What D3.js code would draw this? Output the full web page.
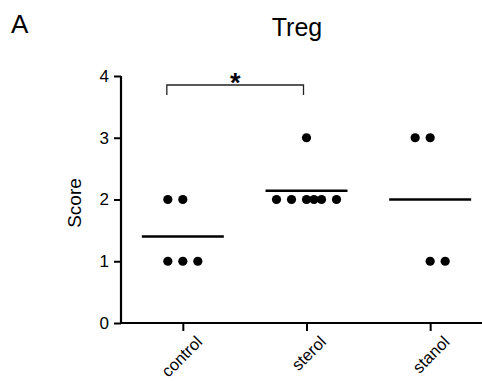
<!DOCTYPE html>
<html lang="en">
<head>
<meta charset="UTF-8">
<title>Treg</title>
<style>
  body { margin: 0; background: #fff; }
  text { font-family: "Liberation Sans", Arial, sans-serif; fill: #000; }
</style>
</head>
<body>
<svg width="482" height="381"></svg>
<script src="https://d3js.org/d3.v7.min.js"></script>
<script>
// data
var categories = ["control", "sterol", "stanol"];
var controlScores = [2, 2, 1, 1, 1];
var sterolScores = [3, 2, 2, 2, 2, 2, 2];
var stanolScores = [3, 3, 1, 1];
// horizontal spread of the dots, in dot widths
var controlJitter = [-1, 0, -1, 0, 1];
var sterolJitter = [0, -2, -1, 0, 0.5, 1, 2];
var stanolJitter = [-1, 0, 0, 1];
var yTicks = [0, 1, 2, 3, 4];
var sigPair = ["control", "sterol"];
var sigLabel = "*";

var groups = [
  { name: "control", scores: controlScores, jitter: controlJitter },
  { name: "sterol", scores: sterolScores, jitter: sterolJitter },
  { name: "stanol", scores: stanolScores, jitter: stanolJitter }
];

var svg = d3.select("svg");
var axisLeft = 121, axisBottom = 323;
var dotStep = 15;

var x = d3.scalePoint().domain(categories).range([axisLeft, 492]).padding(0.5);
var y = d3.scaleLinear().domain([0, 4]).range([axisBottom, 76]);

// panel letter and title
svg.append("text").attr("x", 11).attr("y", 33).style("font-size", "26px").text("A");
svg.append("text").attr("x", 297).attr("y", 36).attr("text-anchor", "middle")
  .style("font-size", "25px").text("Treg");

// y axis
var yAxis = svg.append("g").attr("transform", "translate(" + axisLeft + ",0)")
  .call(d3.axisLeft(y).tickValues(yTicks).tickFormat(d3.format("d")).tickSize(7).tickPadding(5));
yAxis.select(".domain").attr("d", "M0," + y(4) + "V" + axisBottom).attr("stroke", "#000").attr("stroke-width", 2.2);
yAxis.selectAll(".tick line").attr("stroke", "#000").attr("stroke-width", 2);
yAxis.selectAll(".tick text").style("font-size", "17px").style("font-family", "Liberation Sans, Arial, sans-serif");

// x axis
var xAxis = svg.append("g").attr("transform", "translate(0," + axisBottom + ")")
  .call(d3.axisBottom(x).tickSize(8).tickPadding(0));
xAxis.select(".domain").attr("d", "M" + (axisLeft - 1) + ",0H482").attr("stroke", "#000").attr("stroke-width", 2.2);
xAxis.selectAll(".tick line").attr("stroke", "#000").attr("stroke-width", 2);
xAxis.selectAll(".tick text")
  .attr("y", 0).attr("dy", 0)
  .attr("text-anchor", "end")
  .attr("transform", "translate(20,20) rotate(-45)")
  .style("font-size", "16.5px").style("font-family", "Liberation Sans, Arial, sans-serif");

// y label
svg.append("text")
  .attr("transform", "translate(81,203) rotate(-90)")
  .attr("text-anchor", "middle")
  .style("font-size", "19px")
  .text("Score");

// dots
groups.forEach(function(g) {
  svg.append("g").selectAll("circle")
    .data(g.scores)
    .enter().append("circle")
    .attr("cx", function(d, i) { return x(g.name) + g.jitter[i] * dotStep; })
    .attr("cy", function(d) { return y(d); })
    .attr("r", 4.6)
    .attr("fill", "#000");
});

// mean lines
svg.append("g").selectAll("line")
  .data(groups)
  .enter().append("line")
  .attr("x1", function(d) { return x(d.name) - 41; })
  .attr("x2", function(d) { return x(d.name) + 41; })
  .attr("y1", function(d) { return y(d3.mean(d.scores)); })
  .attr("y2", function(d) { return y(d3.mean(d.scores)); })
  .attr("stroke", "#000")
  .attr("stroke-width", 2.5);

// significance bracket
var bx1 = x(sigPair[0]) - 16, bx2 = x(sigPair[1]) - 3, by = 85;
svg.append("path")
  .attr("d", "M" + bx1 + "," + (by + 10) + "V" + by + "H" + bx2 + "V" + (by + 10))
  .attr("fill", "none").attr("stroke", "#222").attr("stroke-width", 1.3);
svg.append("text")
  .attr("x", (bx1 + bx2) / 2).attr("y", 92)
  .attr("text-anchor", "middle")
  .style("font-size", "27px").style("font-weight", "bold")
  .text(sigLabel);
</script>
</body>
</html>
